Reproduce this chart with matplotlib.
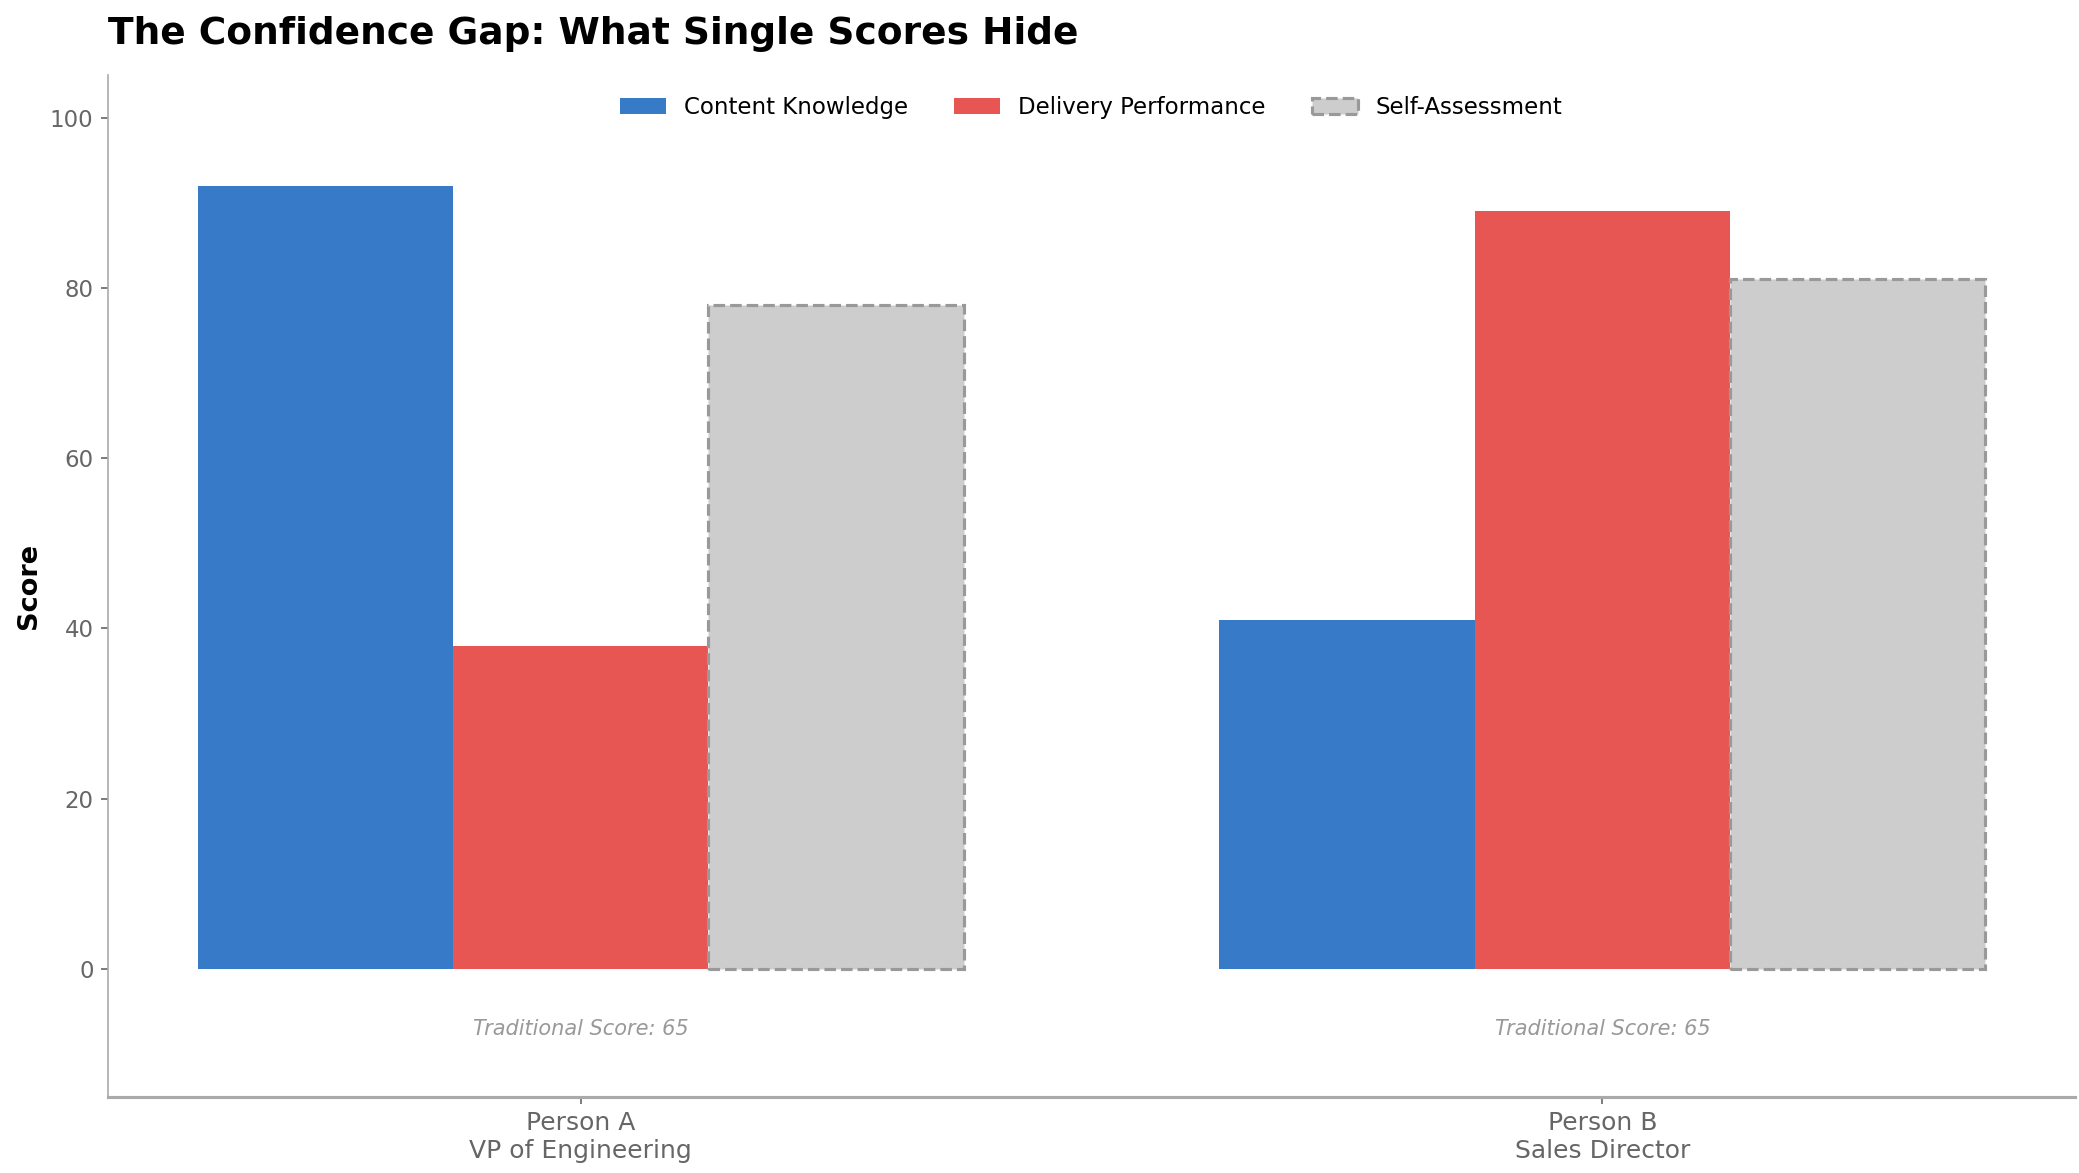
import matplotlib
matplotlib.use("Agg")
import matplotlib.pyplot as plt
import numpy as np

people = ["Person A\nVP of Engineering", "Person B\nSales Director"]
content = [92, 41]
delivery = [38, 89]
self_assess = [78, 81]
traditional = [65, 65]

fig, ax = plt.subplots(figsize=(2079/150, 1173/150), dpi=150)
x = np.arange(len(people))
w = 0.25
ax.bar(x - w, content, w, color="#377AC8", label="Content Knowledge")
ax.bar(x, delivery, w, color="#E85654", label="Delivery Performance")
ax.bar(x + w, self_assess, w, color="#CDCDCD", edgecolor="#999999",
       linestyle="--", linewidth=1.5, label="Self-Assessment")

for xi, t in zip(x, traditional):
    ax.text(xi, -7, f"Traditional Score: {t}", ha="center", va="center",
            fontsize=10, style="italic", color="#999999")

ax.set_ylim(-15, 105)
ax.set_xticks(x)
ax.set_xticklabels(people, fontsize=12, color="#666666")
ax.tick_params(axis="y", labelsize=11, labelcolor="#666666", color="#666666")
ax.tick_params(axis="x", color="#666666")
ax.set_ylabel("Score", fontsize=13, fontweight="bold")
for s in ["top", "right"]:
    ax.spines[s].set_visible(False)
for s in ["left", "bottom"]:
    ax.spines[s].set_color("#aaaaaa")
ax.spines["bottom"].set_linewidth(1.5)
ax.set_title("The Confidence Gap: What Single Scores Hide", loc="left",
             fontsize=18, fontweight="bold", pad=15)
ax.legend(loc="upper center", ncol=3, frameon=False, fontsize=11)

fig.subplots_adjust(left=0.052, right=0.998, top=0.936, bottom=0.065)
fig.savefig("out.png", dpi=150)
